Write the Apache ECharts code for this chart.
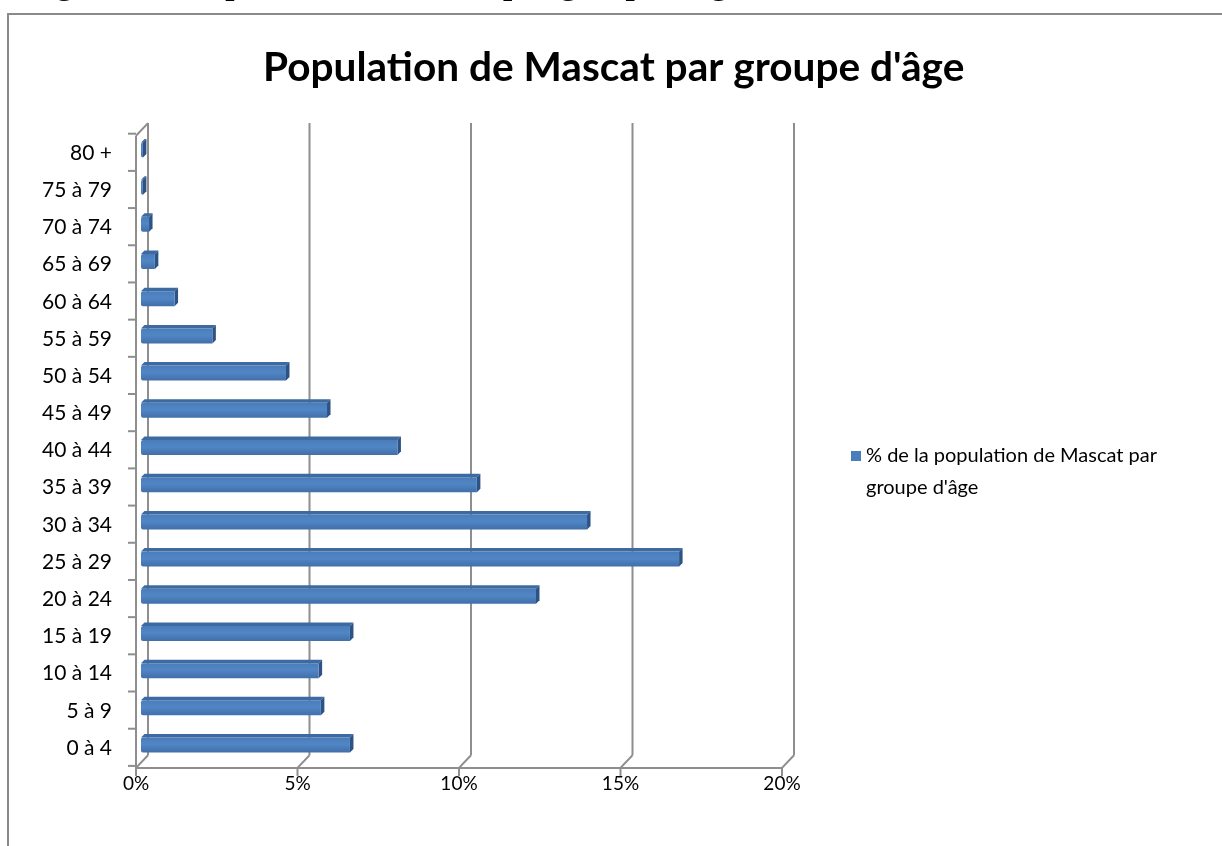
<!DOCTYPE html>
<html>
<head>
<meta charset="utf-8">
<script src="https://cdn.jsdelivr.net/npm/echarts@6/dist/echarts.min.js"></script>
<style>
  html, body { margin: 0; padding: 0; background: #fff; }
  #wrap { position: relative; width: 1222px; height: 846px; overflow: hidden; background: #fff; }
  #chart { position: absolute; left: 0; top: 0; width: 1222px; height: 846px; }
  #caption {
    position: absolute; left: 27px; top: -33px; white-space: nowrap;
    font-family: "Liberation Serif", "Times New Roman", serif; font-weight: bold;
    font-size: 33px; line-height: 33px; color: #000; z-index: 2; pointer-events: none;
  }
</style>
</head>
<body>
<div id="wrap">
  <div id="chart"></div>
  <div id="caption">Figure 36 : Population de Mascat par groupe d'âge en 2010</div>
</div>
<script>
// Age groups, bottom to top
const ageGroups = ['0 à 4', '5 à 9', '10 à 14', '15 à 19', '20 à 24', '25 à 29', '30 à 34', '35 à 39',
  '40 à 44', '45 à 49', '50 à 54', '55 à 59', '60 à 64', '65 à 69', '70 à 74', '75 à 79', '80 +'];
// Share of the Muscat population in each age group (%)
const populationShare = [6.50, 5.60, 5.53, 6.50, 12.26, 16.69, 13.84, 10.43,
  7.97, 5.79, 4.52, 2.24, 1.07, 0.46, 0.28, 0.09, 0.09];
// Value axis ticks (%)
const valueTicks = [0, 5, 10, 15, 20];

const seriesName = "% de la population de Mascat par\ngroupe d'âge";
const FONT = 'Lato, "Open Sans", sans-serif';
const LINE = '#8e8e8e';
// Half depth of the 3D floor/wall offset
const DX = 6, DY = 6.3;

const chart = echarts.init(document.getElementById('chart'), null, { renderer: 'canvas' });

function frameItem(params, api) {
  const v = api.value(0);
  const n = ageGroups.length;
  const band = api.size([0, 1])[1];
  const p = api.coord([v, 0]);
  const yBottom = p[1] + band / 2;
  const yTop = api.coord([v, n - 1])[1] - band / 2;
  const x = p[0];
  const st = { stroke: LINE, lineWidth: 2, fill: null };
  const children = [
    // back wall gridline
    { type: 'line', shape: { x1: x + DX, y1: yTop - DY, x2: x + DX, y2: yBottom - DY }, style: st },
    // floor edge to the front axis
    { type: 'line', shape: { x1: x + DX, y1: yBottom - DY, x2: x - DX, y2: yBottom + DY }, style: st },
    // front tick
    { type: 'line', shape: { x1: x - DX, y1: yBottom + DY, x2: x - DX, y2: yBottom + DY + 8 }, style: st }
  ];
  if (params.dataIndex === 0) {
    const xEnd = api.coord([valueTicks[valueTicks.length - 1], 0])[0];
    // front value axis
    children.push({ type: 'line', shape: { x1: x - DX, y1: yBottom + DY, x2: xEnd - DX, y2: yBottom + DY }, style: st });
    // front category axis and its top edge to the wall
    children.push({ type: 'line', shape: { x1: x - DX, y1: yTop + DY, x2: x - DX, y2: yBottom + DY }, style: st });
    children.push({ type: 'line', shape: { x1: x - DX, y1: yTop + DY, x2: x + DX, y2: yTop - DY }, style: st });
    // category ticks
    for (let k = 0; k <= n; k++) {
      const y = yBottom - k * band + DY - 2;
      children.push({ type: 'line', shape: { x1: x - DX - 8, y1: y, x2: x - DX, y2: y }, style: st });
    }
  }
  return { type: 'group', children };
}

function barItem(params, api) {
  const v = api.value(0), i = api.value(1);
  const s = api.coord([0, i]);
  const e = api.coord([v, i]);
  const cy = s[1];
  const d = 3.5;
  const x0 = s[0] - 1;
  const x1 = Math.max(e[0] - 2, x0 + 1);
  const y0 = cy - 5.5, y1 = cy + 9.5;
  return {
    type: 'group',
    children: [
      { type: 'polygon', shape: { points: [[x0, y0], [x0 + d, y0 - d], [x1 + d, y0 - d], [x1, y0]] },
        style: { fill: '#3d6aa1' } },
      { type: 'polygon', shape: { points: [[x1, y0], [x1 + d, y0 - d], [x1 + d, y1 - d], [x1, y1]] },
        style: { fill: '#2d5284' } },
      { type: 'rect', shape: { x: x0, y: y0, width: x1 - x0, height: y1 - y0, r: [2, 0, 0, 2] },
        style: { fill: new echarts.graphic.LinearGradient(0, 0, 0, 1, [
          { offset: 0, color: '#4a7cb9' }, { offset: 0.45, color: '#5186c5' }, { offset: 1, color: '#416fa9' }
        ]) } }
    ]
  };
}

const option = {
  backgroundColor: '#fff',
  animation: false,
  title: {
    text: "Population de Mascat par groupe d'âge",
    left: 258, top: 42,
    textStyle: { fontFamily: FONT, fontWeight: 'bold', fontSize: 40.6, color: '#000' }
  },
  legend: {
    data: [seriesName],
    left: 846, top: 435,
    // square marker sitting beside the first line of the two-line label
    icon: 'path://M0,0L10,0L10,10L0,10ZM0,42L0.01,42L0,42.01Z',
    itemWidth: 10, itemHeight: 42, itemGap: 0,
    textStyle: { fontFamily: FONT, fontSize: 20, color: '#000', lineHeight: 32 }
  },
  grid: { left: 142, right: 434, top: 129.4, bottom: 84.4, containLabel: false },
  xAxis: {
    type: 'value', min: 0, max: 20, interval: 5,
    axisLine: { show: false }, axisTick: { show: false }, splitLine: { show: false },
    axisLabel: { formatter: '{value}%', fontFamily: FONT, fontSize: 19, color: '#000',
      margin: 12, lineHeight: 20, padding: [0, 12, 0, 0] }
  },
  yAxis: {
    type: 'category', data: ageGroups,
    axisLine: { show: false }, axisTick: { show: false }, splitLine: { show: false },
    // labels sit a little below the bar centres
    axisLabel: { fontFamily: FONT, fontSize: 21, color: '#000', margin: 30,
      verticalAlign: 'top', lineHeight: 10 }
  },
  graphic: [
    { type: 'rect', shape: { x: 8, y: 14, width: 1400, height: 1000 },
      style: { fill: null, stroke: '#8a8a8a', lineWidth: 2 }, z: 100 }
  ],
  series: [
    {
      type: 'custom', name: 'cadre', silent: true, z: 1,
      renderItem: frameItem,
      data: valueTicks.map(v => [v, 0]),
      encode: { x: 0, y: 1 }
    },
    {
      type: 'custom', name: seriesName, z: 2,
      itemStyle: { color: '#4a7ebb' },
      renderItem: barItem,
      data: populationShare.map((v, i) => [v, i]),
      encode: { x: 0, y: 1 }
    }
  ]
};

chart.setOption(option);
</script>
</body>
</html>
